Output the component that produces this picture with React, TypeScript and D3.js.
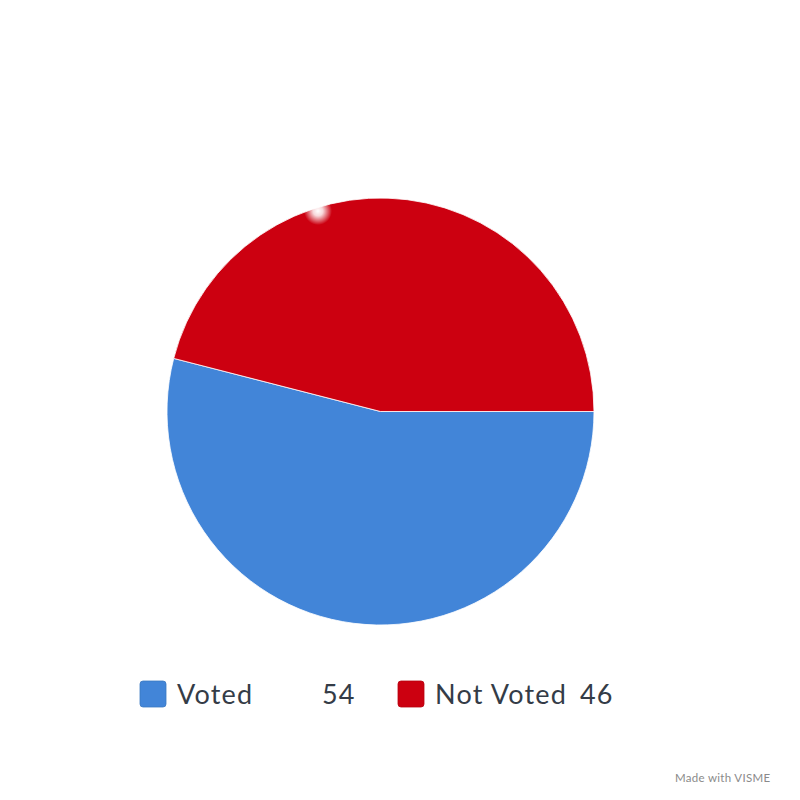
import React from "react";
import * as d3 from "d3";

const labels = ["Voted", "Not Voted"];
const values = [54, 46];
const colors = ["#4285d8", "#cc0010"];

const App = () => {
  const width = 800;
  const height = 800;
  const cx = 380.5;
  const cy = 411.5;
  const radius = 213.5;

  // pie starts at 3 o'clock, clockwise
  const pie = d3
    .pie<number>()
    .sort(null)
    .startAngle(Math.PI / 2)
    .endAngle(Math.PI / 2 + 2 * Math.PI);
  const arcs = pie(values);
  const arc = d3.arc<d3.PieArcDatum<number>>().innerRadius(0).outerRadius(radius);

  // legend positions
  const legendX = d3.scaleOrdinal<number>().domain(labels).range([140, 398]);

  return (
    <svg
      width={width}
      height={height}
      style={{ position: "absolute", left: 0, top: 0, background: "#fff" }}
    >
      <defs>
        <radialGradient id="glare">
          <stop offset="0%" stopColor="#fff" stopOpacity={1} />
          <stop offset="35%" stopColor="#fff" stopOpacity={0.85} />
          <stop offset="100%" stopColor="#fff" stopOpacity={0} />
        </radialGradient>
      </defs>
      <g transform={`translate(${cx},${cy})`}>
        {arcs.map((d, i) => (
          <path key={i} d={arc(d) || ""} fill={colors[i]} stroke="#fff" strokeWidth={0.8} />
        ))}
      </g>
      <circle cx={318} cy={211} r={14} fill="url(#glare)" />
      <g style={{ fontFamily: "Lato, sans-serif" }}>
        {labels.map((name, i) => {
          const x = legendX(name);
          return (
            <g key={name} transform={`translate(${x},681)`}>
              <rect
                width={26}
                height={26}
                rx={3}
                fill={colors[i]}
                stroke={d3.color(colors[i])!.darker(0.3).toString()}
                strokeWidth={0.8}
              />
              <text x={37} y={23} fontSize={27} letterSpacing={1.2} fill="#343c47">
                {name}
              </text>
              <text x={182} y={23} fontSize={27} letterSpacing={1.2} fill="#343c47">
                {values[i]}
              </text>
            </g>
          );
        })}
        <text x={675} y={782} fontSize={11.5} fill="#8a8a8a" letterSpacing={0.3}>
          Made with VISME
        </text>
      </g>
    </svg>
  );
};

export default App;
